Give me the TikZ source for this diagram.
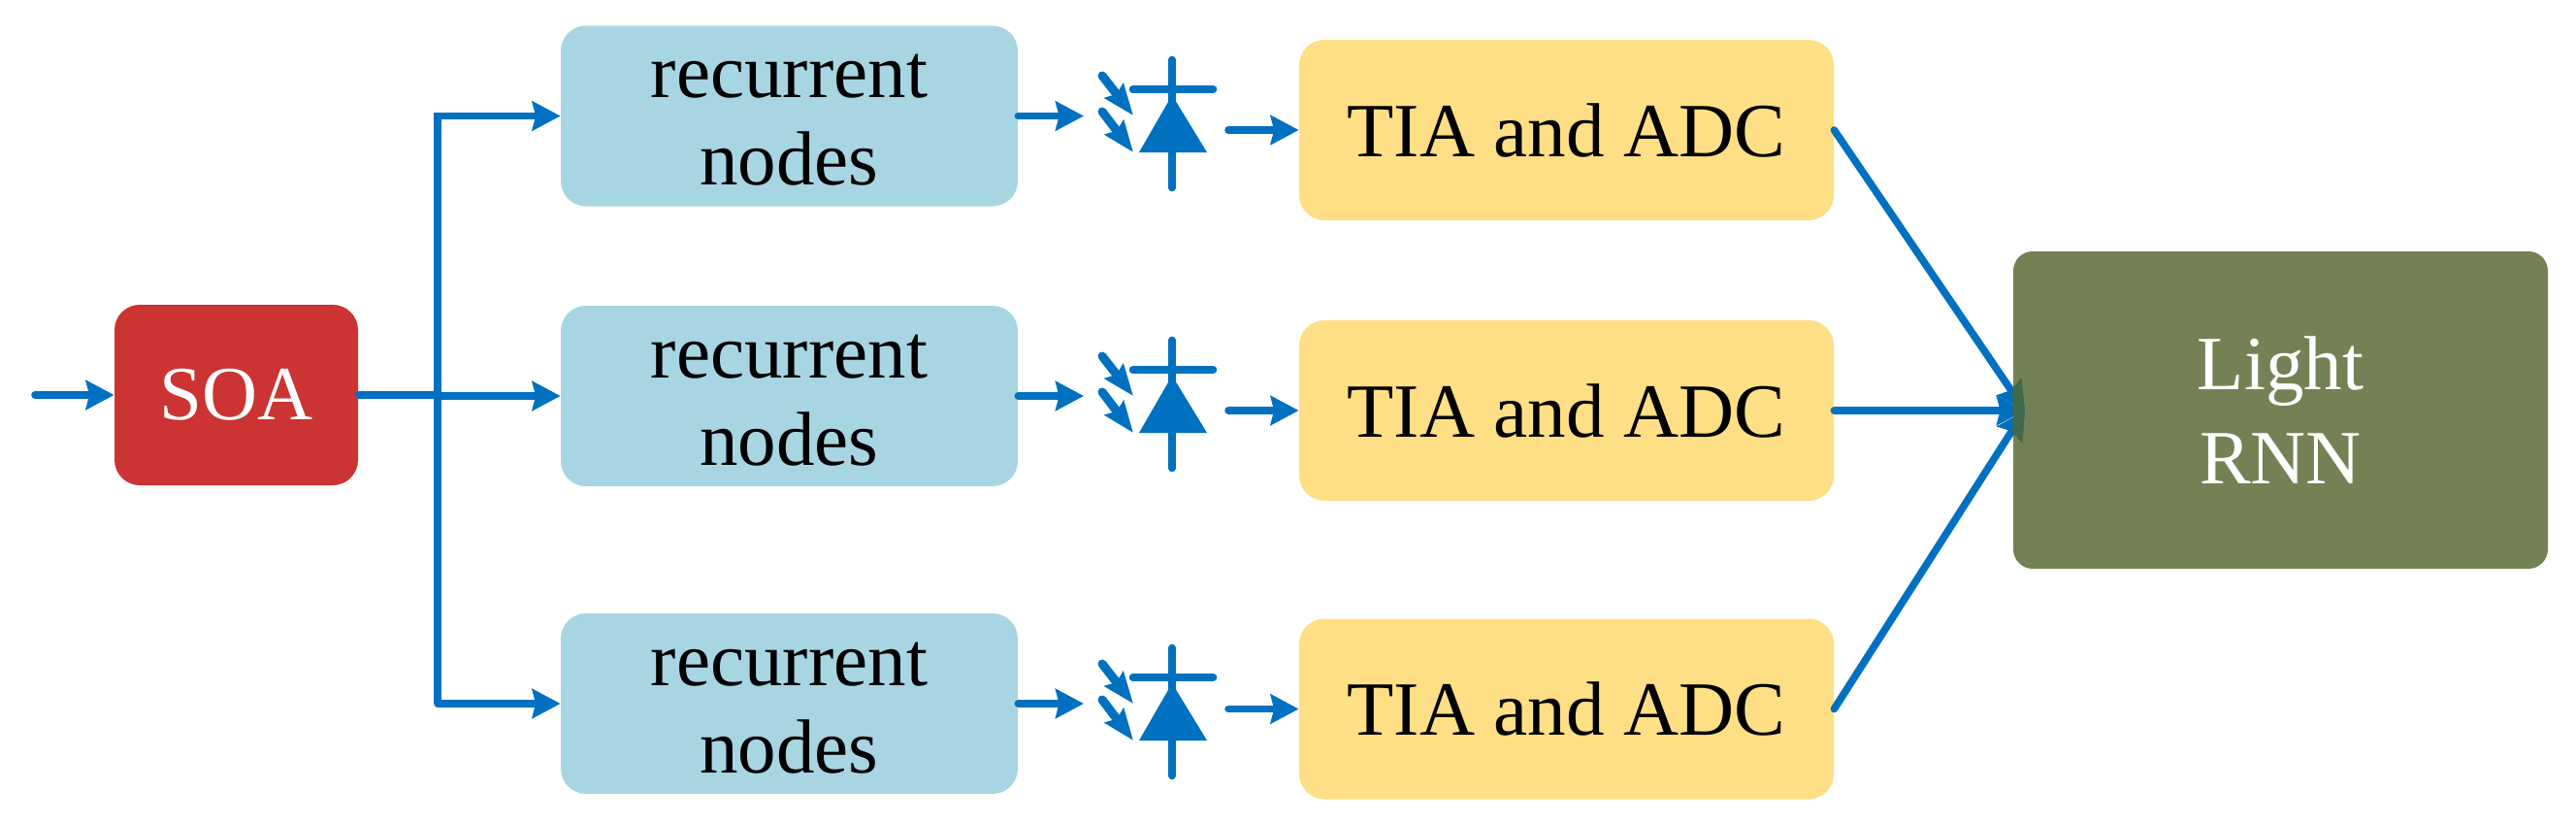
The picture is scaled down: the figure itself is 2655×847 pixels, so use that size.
\documentclass[tikz,border=0pt]{standalone}
\usepackage{fontspec}
\setmainfont{Liberation Serif}
\usetikzlibrary{arrows.meta}
\definecolor{linkblue}{HTML}{0070C0}
\definecolor{soared}{HTML}{CC3333}
\definecolor{nodeblue}{HTML}{A8D5E2}
\definecolor{tiayellow}{HTML}{FEDF85}
\definecolor{rnngreen}{HTML}{748154}
\definecolor{tipdark}{HTML}{44694A}
\newcommand{\lowerfirst}{\rule{0pt}{26.5pt}}
\tikzset{
  box/.style={rectangle,rounded corners=13pt,inner sep=0pt,align=center},
  soabox/.style={box,fill=soared,text=white,minimum width=125.5pt,minimum height=93pt,font=\fontsize{39.5}{45}\selectfont},
  recbox/.style={box,fill=nodeblue,minimum width=235.5pt,minimum height=93pt,font=\fontsize{39.5}{45}\selectfont},
  tiabox/.style={box,fill=tiayellow,minimum width=275.5pt,minimum height=93pt,font=\fontsize{39.5}{45}\selectfont},
  rnnbox/.style={box,rounded corners=10pt,fill=rnngreen,text=white,minimum width=275.5pt,minimum height=163.5pt,font=\fontsize{39.5}{48.5}\selectfont},
  arr/.style={draw=linkblue,line width=3.8pt,line cap=round,-{Stealth[length=14.5pt,width=15pt,inset=1.8pt]}},
  bigarr/.style={arr},
  smallarr/.style={draw=linkblue,line width=4.5pt,line cap=round,-{Stealth[length=16pt,width=12pt,inset=2pt]}},
  pics/photodiode/.style={code={
    \draw[linkblue,line width=3.8pt,line cap=round] (0,-30.5) -- (0,101.5);
    \draw[linkblue,line width=3.8pt,line cap=round] (-40.5,0) -- (42.5,0);
    \fill[linkblue] (0,6) -- (36,65) -- (-34,65) -- cycle;
    \draw[smallarr] (-72,-14) -- (-40,27);
    \draw[smallarr] (-72,23) -- (-40,65);
  }}
}
\begin{document}
\begin{tikzpicture}[x=0.5pt,y=-0.5pt]
\useasboundingbox (0,0) rectangle (2655,847);
\node[soabox] (soa) at (243.5,407) {SOA};
\node[recbox] (r1) at (813.5,119.5) {\lowerfirst recurrent\\nodes};
\node[recbox] (r2) at (813.5,408) {\lowerfirst recurrent\\nodes};
\node[recbox] (r3) at (813.5,725) {\lowerfirst recurrent\\nodes};
\node[tiabox] (t1) at (1614.5,134) {TIA and ADC};
\node[tiabox] (t2) at (1614.5,423) {TIA and ADC};
\node[tiabox] (t3) at (1614.5,730.5) {TIA and ADC};
\node[rnnbox] (rnn) at (2350.5,422.5) {Light\\RNN};
\pic at (1208,92) {photodiode};
\pic at (1208,381) {photodiode};
\pic at (1208,698) {photodiode};
\coordinate (src) at (36,407);
\coordinate (j) at (451,407);
\coordinate (jtop) at (451,119.5);
\coordinate (jbot) at (451,725);
\coordinate (i1) at (1117,119.5);
\coordinate (i2) at (1117,408);
\coordinate (i3) at (1117,725);
\coordinate (o1) at (1266,134);
\coordinate (o2) at (1266,423);
\coordinate (o3) at (1266,730.5);
\coordinate (hit) at (2087,423);
\draw[arr] (src) -- (soa.west);
\draw[linkblue,line width=3.8pt,line cap=round] (soa.east) -- (j);
\draw[arr] (j |- r2.west) -- (r2.west);
\draw[arr] (jbot) -- (r3.west);
\draw[arr,line cap=butt] (jbot) -- (jtop) -- (r1.west);
\draw[arr] (r1.east) -- (i1);
\draw[arr] (r2.east) -- (i2);
\draw[arr] (r3.east) -- (i3);
\draw[arr] (o1) -- (t1.west);
\draw[arr] (o2) -- (t2.west);
\draw[arr] (o3) -- (t3.west);
\draw[bigarr] (t1.east) -- (hit);
\draw[bigarr] (t2.east) -- (hit);
\draw[bigarr] (t3.east) -- (hit);
\begin{scope}
  \clip (rnn.south west) rectangle (rnn.north east);
  \draw[bigarr,draw=tipdark] (t1.east) -- (hit);
  \draw[bigarr,draw=tipdark] (t2.east) -- (hit);
  \draw[bigarr,draw=tipdark] (t3.east) -- (hit);
\end{scope}
\end{tikzpicture}
\end{document}
